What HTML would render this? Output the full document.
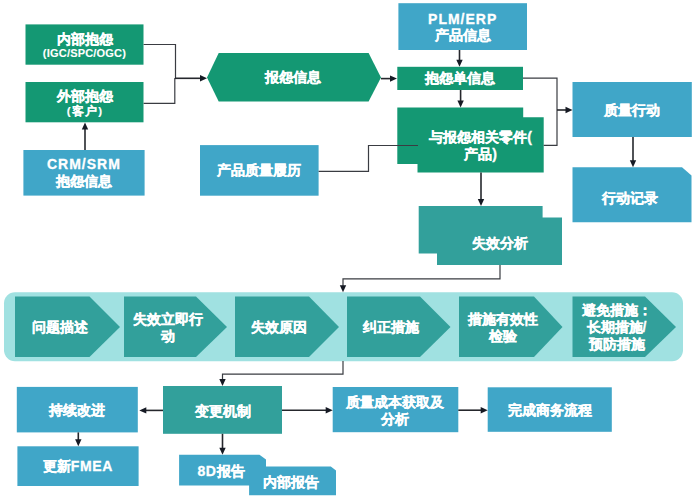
<!DOCTYPE html>
<html><head><meta charset="utf-8">
<style>
html,body{margin:0;padding:0;background:#fff;}
body{width:694px;height:500px;position:relative;overflow:hidden;font-family:"Liberation Sans",sans-serif;}
svg{position:absolute;left:0;top:0;}
.t{position:absolute;color:#fff;font-weight:bold;font-size:14px;line-height:17px;text-align:center;white-space:nowrap;-webkit-text-stroke:0.3px #fff;}
.l{letter-spacing:1px;}
.s{font-size:11px;line-height:12px;-webkit-text-stroke:0.1px #fff;}
</style></head><body>
<svg width="694" height="500" viewBox="0 0 694 500">
<defs>
<marker id="ar" viewBox="0 0 10 10" refX="10" refY="5" markerWidth="8" markerHeight="8" markerUnits="userSpaceOnUse" orient="auto"><path d="M0,0 L10,5 L0,10 z" fill="#141a2a"/></marker>
</defs>
<!-- lane -->
<rect x="4" y="292.3" width="679" height="69" rx="11" fill="#a0e1e1"/>
<g fill="#32a09b">
<path d="M15,296.5 H89.5 L120,327 L89.5,357 H15 Z"/>
<path d="M124,296.5 H196 L227,327 L196,357 H124 Z"/>
<path d="M235,296.5 H309 L339,327 L309,357 H235 Z"/>
<path d="M347,296.5 H420 L450.5,327 L420,357 H347 Z"/>
<path d="M459,296.5 H534 L562.5,327 L534,357 H459 Z"/>
<path d="M572.5,296.5 H645 L676,327 L645,357 H572.5 Z"/>
</g>
<!-- green boxes -->
<g fill="#149873">
<rect x="25.5" y="24.4" width="118" height="40.3"/>
<rect x="25.5" y="82" width="118" height="40.3"/>
<path d="M207,77.5 L218.7,53 H368.6 L381,77.5 L368.6,101.5 H218.7 Z"/>
<rect x="397.3" y="66.8" width="125.7" height="23.2"/>
<path d="M397.3,107.4 H523.2 V117.3 H543.7 V172.5 H417.5 V164 H397.3 Z"/>
</g>
<!-- blue boxes -->
<g fill="#40a6c8">
<rect x="23.4" y="150" width="121.2" height="45.6"/>
<rect x="398.4" y="3.2" width="128.6" height="46.8"/>
<rect x="572.5" y="82" width="119.3" height="55"/>
<path d="M572.5,167.3 H682 L691.5,175.6 V222.2 H572.5 Z"/>
<rect x="200" y="145.1" width="118.6" height="50.6"/>
<rect x="16.8" y="386.9" width="121" height="45.5"/>
<rect x="17.4" y="446.3" width="121.2" height="39.7"/>
<rect x="332.7" y="387" width="125.6" height="45.2"/>
<rect x="487.7" y="387.3" width="124.1" height="44.5"/>
<path d="M179.1,454.8 H259.5 L266,459.5 V485.4 H179.1 Z"/>
<path d="M249.1,466.5 H330.8 L336,470.6 V495.2 H249.1 Z"/>
</g>
<!-- teal boxes -->
<g fill="#32a09b">
<path d="M418.7,205.9 H542.6 V217.6 H562 V265 H437 V253.4 H418.7 Z"/>
<rect x="163" y="386" width="119" height="47.8"/>
</g>
<!-- lines -->
<g stroke="#3a3c42" stroke-width="1.2" fill="none">
<path d="M143.6,44.5 H175.5 V78.5 M174.8,78 V103.3 H143.6"/>
<path d="M523,78.2 H557 V145.3 H543.7"/>
<path d="M318.6,171.3 H368.5 V145.5 H418"/>
<path d="M500,265 V278.8 H343 V286"/>
<path d="M343,361 V374.2 H222.5 V380"/>
</g>
<g stroke="#25272c" stroke-width="1.6" fill="none">
<path d="M175,78.3 H201"/>
<path d="M85,150 V128"/>
<path d="M381,78.6 H391"/>
<path d="M459.5,50 V61"/>
<path d="M460.6,90 V101.5"/>
<path d="M557,110 H566.5"/>
<path d="M481,172.5 V200"/>
<path d="M633,137 V161.5"/>
<path d="M163,410.4 H145"/>
<path d="M78.3,432.4 V440"/>
<path d="M222.5,433.8 V449"/>
<path d="M282,410.2 H327"/>
<path d="M458.3,410.2 H482"/>
</g>
<g fill="#161a24">
<path d="M207,78.3 l-7,-3.2 v6.4 z"/>
<path d="M85,122.5 l-3.2,7 h6.4 z"/>
<path d="M397,78.6 l-7,-3.2 v6.4 z"/>
<path d="M459.5,66.8 l-3.2,-7 h6.4 z"/>
<path d="M460.6,107.4 l-3.2,-7 h6.4 z"/>
<path d="M572.5,110 l-7,-3.2 v6.4 z"/>
<path d="M481,205.9 l-3.2,-7 h6.4 z"/>
<path d="M343,292.3 l-3.2,-7 h6.4 z"/>
<path d="M633,167.3 l-3.2,-7 h6.4 z"/>
<path d="M222.5,386 l-3.2,-7 h6.4 z"/>
<path d="M139.3,410.4 l7,-3.2 v6.4 z"/>
<path d="M78.3,446.3 l-3.2,-7 h6.4 z"/>
<path d="M222.5,454.8 l-3.2,-7 h6.4 z"/>
<path d="M332.7,410.2 l-7,-3.2 v6.4 z"/>
<path d="M487.7,410.2 l-7,-3.2 v6.4 z"/>
</g>
</svg>
<div class="t" style="left:25.5px;top:31px;width:118px;">内部抱怨</div>
<div class="t s" style="left:25.5px;top:46.5px;width:118px;letter-spacing:0.2px">(IGC/SPC/OGC)</div>
<div class="t" style="left:25.5px;top:88px;width:118px;">外部抱怨</div>
<div class="t s" style="left:25.5px;top:105px;width:118px;font-size:11.5px;letter-spacing:1.2px;text-indent:1.2px">(客户)</div>
<div class="t" style="left:23.4px;top:156px;width:121px;"><span class="l">CRM/SRM</span><br>抱怨信息</div>
<div class="t" style="left:218px;top:69px;width:150px;">报怨信息</div>
<div class="t" style="left:398.4px;top:10px;width:128.6px;"><span class="l" style="position:relative;top:1px">PLM/ERP</span><br>产品信息</div>
<div class="t" style="left:397.3px;top:70px;width:125.7px;">抱怨单信息</div>
<div class="t" style="left:417.5px;top:129px;width:126px;">与报怨相关零件(<br>产品)</div>
<div class="t" style="left:572.5px;top:102px;width:119.3px;">质量行动</div>
<div class="t" style="left:570.5px;top:190px;width:119px;">行动记录</div>
<div class="t" style="left:200px;top:162px;width:118.6px;">产品质量履历</div>
<div class="t" style="left:437px;top:235px;width:125px;">失效分析</div>
<div class="t" style="left:15px;top:319px;width:90px;">问题描述</div>
<div class="t" style="left:124px;top:311px;width:88px;">失效立即行<br>动</div>
<div class="t" style="left:235px;top:319px;width:88px;">失效原因</div>
<div class="t" style="left:347px;top:319px;width:88px;">纠正措施</div>
<div class="t" style="left:459px;top:311px;width:88px;">措施有效性<br>检验</div>
<div class="t" style="left:572.5px;top:302px;width:88px;">避免措施：<br>长期措施/<br>预防措施</div>
<div class="t" style="left:16.8px;top:402px;width:121px;">持续改进</div>
<div class="t" style="left:17.4px;top:458px;width:121px;">更新<span style="letter-spacing:0.6px">FMEA</span></div>
<div class="t" style="left:163px;top:403px;width:119px;">变更机制</div>
<div class="t" style="left:332.7px;top:394px;width:125.6px;">质量成本获取及<br>分析</div>
<div class="t" style="left:487.7px;top:402px;width:124px;">完成商务流程</div>
<div class="t" style="left:179px;top:463px;width:84px;"><span style="letter-spacing:0.6px">8D</span>报告</div>
<div class="t" style="left:249px;top:474px;width:84px;">内部报告</div>
</body></html>
